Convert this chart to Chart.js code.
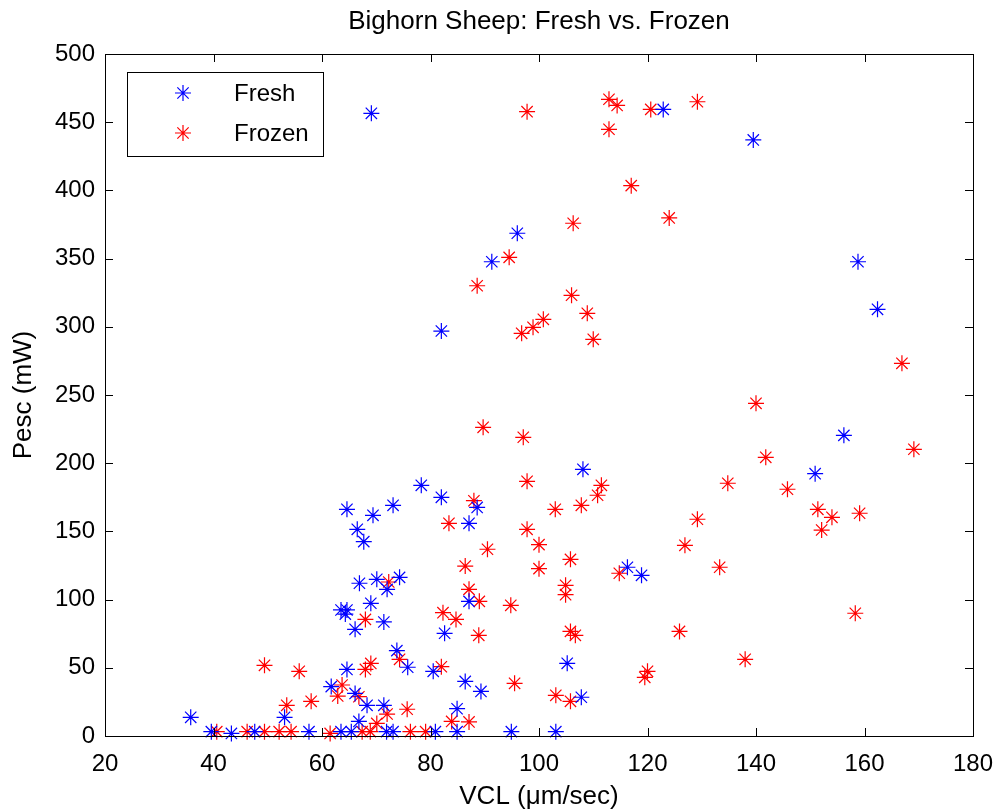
<!DOCTYPE html>
<html>
<head>
<meta charset="utf-8">
<script src="https://cdn.jsdelivr.net/npm/chart.js@4.4.1/dist/chart.umd.min.js"></script>
<style>
  html, body { margin: 0; padding: 0; background: #fff; }
</style>
</head>
<body>
<canvas id="scatter" width="998" height="810"></canvas>
<script>
// Bighorn sheep sperm: VCL vs. Pesc, fresh and frozen samples.
const xTicks = [20, 40, 60, 80, 100, 120, 140, 160, 180];
const yTicks = [0, 50, 100, 150, 200, 250, 300, 350, 400, 450, 500];

const freshVCL = [69.1, 96.0, 91.3, 82.0, 122.9, 139.5, 158.8, 162.4, 156.2, 150.9, 108.1, 116.3, 118.9,
  105.2, 107.8, 94.9, 103.1, 64.6, 69.4, 73.1, 66.5, 67.7, 78.3, 82.0, 88.6, 87.1,
  35.8, 39.6, 43.3, 47.6, 53.1, 57.6, 63.5, 65.4, 66.8, 71.4, 68.3, 71.9, 73.1, 80.9, 84.9, 84.9,
  61.7, 66.1, 64.6, 73.8, 75.8, 80.5, 86.4, 89.3, 66.9, 70.1, 74.3, 72.0, 87.1, 69.0, 63.5, 64.6,
  64.3, 71.4, 66.1, 82.6];
const freshPesc = [456.5, 368.6, 347.7, 296.9, 459.4, 437.0, 347.7, 312.8, 220.4, 192.3, 195.5, 123.7, 117.8,
  53.3, 28.4, 3.2, 3.2, 166.2, 161.8, 169.1, 151.5, 142.5, 183.8, 175.0, 167.6, 155.9,
  13.7, 3.2, 1.9, 3.2, 13.7, 3.2, 3.2, 3.2, 10.7, 22.5, 22.5, 3.2, 3.2, 3.2, 20.0, 3.2,
  36.2, 31.2, 48.8, 62.6, 50.4, 47.4, 40.0, 32.7, 112.0, 114.9, 116.3, 107.5, 98.7, 97.3, 92.4, 92.4,
  89.4, 83.6, 78.2, 75.3];

const frozenVCL = [97.8, 94.5, 88.6, 96.8, 98.9, 100.8, 112.9, 114.4, 120.6, 129.2, 112.9, 117.0, 124.0,
  106.3, 106.0, 108.9, 110.0, 166.9, 140.0, 141.8, 134.8, 145.8, 129.2, 126.9, 151.4, 154.0, 152.1,
  159.1, 169.1, 133.3, 89.7, 97.1, 97.8, 88.0, 83.4, 97.8, 100.0, 90.5, 86.4, 100.0, 105.8, 103.0,
  107.8, 110.8, 111.5, 114.8, 104.9, 104.9, 94.8, 105.8, 106.7, 125.9, 120.0, 119.5, 95.5, 103.1,
  105.8, 72.3, 87.1, 89.0, 68.0, 82.3, 84.7, 88.9, 68.0, 69.0, 74.3, 82.0, 62.9, 63.7, 66.8, 72.0,
  70.1, 75.7, 83.9, 87.1, 40.6, 46.2, 49.4, 49.4, 52.1, 53.5, 54.3, 55.8, 58.0, 61.5, 67.4, 68.9,
  76.3, 79.1, 138.0, 158.3];
const frozenPesc = [457.7, 350.9, 330.1, 295.2, 299.6, 305.5, 466.8, 462.3, 459.4, 465.0, 444.8, 403.5, 379.8,
  375.9, 323.1, 309.9, 290.8, 273.2, 243.9, 204.3, 185.3, 180.9, 158.9, 139.8, 166.2, 160.3, 151.0,
  163.3, 210.2, 123.7, 226.3, 219.0, 186.7, 172.5, 155.9, 151.5, 140.3, 136.9, 124.6, 122.7, 129.5, 166.2,
  169.1, 176.5, 183.8, 119.3, 110.5, 103.6, 95.8, 76.7, 73.8, 76.7, 47.4, 43.0, 38.6, 29.8,
  25.4, 112.9, 107.5, 98.7, 85.5, 90.4, 85.5, 73.8, 48.8, 53.2, 56.2, 50.8, 29.3, 37.4, 28.8, 16.1,
  9.2, 19.6, 10.7, 10.3, 3.2, 3.2, 3.2, 51.8, 3.2, 22.5, 3.2, 47.4, 25.4, 1.9, 3.2, 3.2,
  3.2, 3.2, 56.2, 90.0];

const FONT = '"Liberation Sans", Arial, Helvetica, sans-serif';
const pts = (xs, ys) => xs.map((x, i) => ({ x, y: ys[i] }));

// box round the plot with ticks pointing inwards, like the matlab axes
const axesBox = {
  id: 'axesBox',
  afterDatasetsDraw(chart) {
    const { ctx, chartArea: a, scales } = chart;
    const len = 8;
    ctx.save();
    ctx.strokeStyle = '#000';
    ctx.lineWidth = 1;
    ctx.beginPath();
    scales.x.ticks.forEach((t) => {
      const px = Math.round(scales.x.getPixelForValue(t.value)) + 0.5;
      ctx.moveTo(px, a.bottom); ctx.lineTo(px, a.bottom - len);
      ctx.moveTo(px, a.top); ctx.lineTo(px, a.top + len);
    });
    scales.y.ticks.forEach((t) => {
      const py = Math.round(scales.y.getPixelForValue(t.value)) + 0.5;
      ctx.moveTo(a.left, py); ctx.lineTo(a.left + len, py);
      ctx.moveTo(a.right, py); ctx.lineTo(a.right - len, py);
    });
    ctx.stroke();
    ctx.strokeRect(Math.round(a.left) + 0.5, Math.round(a.top) + 0.5,
      Math.round(a.right - a.left), Math.round(a.bottom - a.top));
    ctx.restore();
  },
  afterDraw(chart) {
    // legend box in the upper left corner of the axes
    const { ctx } = chart;
    const bx = 127, by = 72, bw = 196, bh = 84;
    ctx.save();
    ctx.fillStyle = '#fff';
    ctx.fillRect(bx, by, bw, bh);
    ctx.strokeStyle = '#000';
    ctx.lineWidth = 1;
    ctx.strokeRect(bx + 0.5, by + 0.5, bw, bh);
    ctx.font = '24px ' + FONT;
    ctx.textBaseline = 'middle';
    ctx.fillStyle = '#000';
    chart.data.datasets.forEach((ds, i) => {
      const y = by + 21 + i * 40;
      ctx.strokeStyle = ds.borderColor;
      ctx.lineWidth = ds.borderWidth;
      Chart.helpers.drawPoint(ctx, {
        pointStyle: 'star', radius: ds.pointRadius, borderWidth: ds.borderWidth, rotation: 0
      }, bx + 56, y);
      ctx.fillText(ds.label, bx + 107, y + 1);
    });
    ctx.restore();
  }
};

new Chart(document.getElementById('scatter'), {
  type: 'scatter',
  data: {
    datasets: [
      { label: 'Fresh', data: pts(freshVCL, freshPesc), borderColor: '#0000ff', backgroundColor: '#0000ff',
        pointStyle: 'star', pointRadius: 8, borderWidth: 1.2, clip: false },
      { label: 'Frozen', data: pts(frozenVCL, frozenPesc), borderColor: '#ff0000', backgroundColor: '#ff0000',
        pointStyle: 'star', pointRadius: 8, borderWidth: 1.2, clip: false }
    ]
  },
  options: {
    responsive: false,
    devicePixelRatio: 1,
    animation: false,
    layout: { padding: { left: 0, right: 25, top: 0, bottom: 0 } },
    plugins: {
      legend: { display: false },
      tooltip: { enabled: false },
      title: {
        display: true,
        text: 'Bighorn Sheep: Fresh vs. Frozen',
        color: '#000',
        fullSize: false,
        font: { family: FONT, size: 26, weight: 'normal', lineHeight: 1.2 },
        padding: { top: 6, bottom: 16.8 }
      }
    },
    scales: {
      x: {
        type: 'linear',
        min: 20, max: 180,
        afterBuildTicks: (s) => { s.ticks = xTicks.map((v) => ({ value: v })); },
        afterFit: (s) => { s.height = 74; s.paddingLeft = 0; s.paddingRight = 0; },
        grid: { display: false, drawTicks: false },
        border: { display: false },
        ticks: { color: '#000', padding: 14, font: { family: FONT, size: 24 } },
        title: { display: true, text: 'VCL (μm/sec)', color: '#000',
          font: { family: FONT, size: 26, lineHeight: 1 }, padding: { top: 0, bottom: 0 } }
      },
      y: {
        type: 'linear',
        min: 0, max: 500,
        afterBuildTicks: (s) => { s.ticks = yTicks.map((v) => ({ value: v })); },
        afterFit: (s) => { s.width = 105; s.paddingTop = 0; s.paddingBottom = 0; },
        grid: { display: false, drawTicks: false },
        border: { display: false },
        ticks: { color: '#000', padding: 10, font: { family: FONT, size: 24 } },
        title: { display: true, text: 'Pesc (mW)', color: '#000',
          font: { family: FONT, size: 26, lineHeight: 1 }, padding: { top: 11, bottom: 0 } }
      }
    }
  },
  plugins: [axesBox]
});
</script>
</body>
</html>
